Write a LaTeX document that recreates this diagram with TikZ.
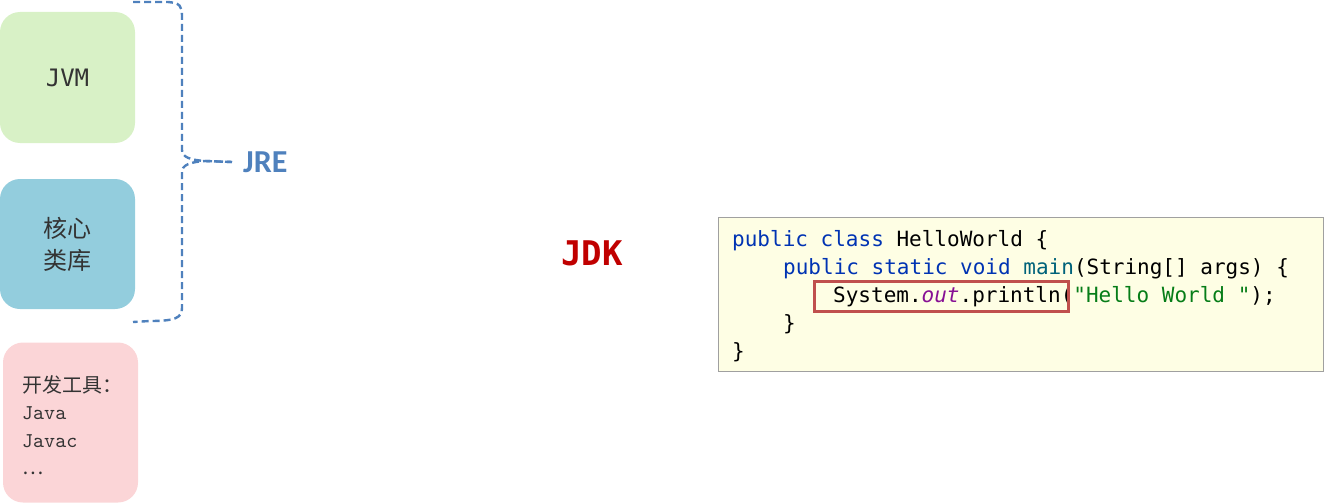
\documentclass[tikz,border=0pt]{standalone}
\usepackage{fontspec}
\setmonofont{DejaVu Sans Mono}
\newfontfamily\cjkfont{Noto Sans CJK SC}
\newfontfamily\labelfont{Carlito}
\newfontfamily\toolfont{lmmono10-regular.otf}
\usetikzlibrary{positioning}
\definecolor{jvmgreen}{HTML}{D8F1C6}
\definecolor{coreblue}{HTML}{93CDDD}
\definecolor{toolpink}{HTML}{FBD5D7}
\definecolor{boxtext}{HTML}{333333}
\definecolor{jreblue}{HTML}{4F81BD}
\definecolor{jdkred}{HTML}{C00000}
\definecolor{codebg}{HTML}{FEFEE4}
\definecolor{codeframe}{HTML}{A0A0A0}
\definecolor{markred}{HTML}{C0504D}
\definecolor{kwblue}{HTML}{0033B3}
\definecolor{mthteal}{HTML}{00627A}
\definecolor{fldpurple}{HTML}{871094}
\definecolor{strgreen}{HTML}{067D17}
\newcommand{\jkw}[1]{\textcolor{kwblue}{#1}}
\newcommand{\jmth}[1]{\textcolor{mthteal}{#1}}
\newcommand{\jfld}[1]{\textcolor{fldpurple}{\itshape #1}}
\newcommand{\jstr}[1]{\textcolor{strgreen}{#1}}
\tikzset{
  block/.style={rectangle, rounded corners=20pt, minimum width=135pt, inner sep=0pt, text=boxtext},
  codeline/.style={anchor=base west, inner sep=0pt, font=\ttfamily\fontsize{21}{28}\selectfont},
  brace/.style={jreblue, line width=2.4pt, dash pattern=on 7pt off 4pt}
}

\begin{document}
\begin{tikzpicture}[x=1pt, y=-1pt]
    \useasboundingbox (0,0) rectangle (1325,503);

    % Bloques de la izquierda
    \node[block, fill=jvmgreen, minimum height=131pt, font=\ttfamily\fontsize{24}{24}\selectfont] (jvm) at (67.5,77.5) {JVM};
    \node[block, fill=coreblue, minimum height=130pt, align=center, font=\cjkfont\fontsize{24}{32}\selectfont] (core) at (67.5,244) {核心\\类库};
    \node[block, fill=toolpink, minimum height=160pt] (tools) at (70.5,422.5) {};
    \node[anchor=north west, inner sep=0pt, align=left, text=boxtext, font=\toolfont\fontsize{21}{27.5}\selectfont] (toolstext) at (22,375) {{\cjkfont\fontsize{20}{27.5}\selectfont 开发工具：}\\Java\\Javac\\{\cjkfont\fontsize{20}{27.5}\selectfont …}};

    % ==========================================
    % JRE (llave)
    % ==========================================
    \node[anchor=west, inner sep=11pt, text=jreblue, font=\labelfont\bfseries\fontsize{32}{32}\selectfont] (jre) at (232,162) {JRE};
    \draw[brace] (133,2) -- (168,2) .. controls (180,3) and (182,6) .. (182,16) -- (182,150) .. controls (182,157) and (190,160) .. (205,161) -- (jre.west);
    \draw[brace] (jre.west) -- (205,161) .. controls (190,162) and (182,165) .. (182,172) -- (182,308) .. controls (182,318) and (175,321) .. (150,321) -- (133,322);

    % JDK
    \node[text=jdkred, font=\ttfamily\bfseries\fontsize{34}{34}\selectfont] (jdk) at (592,253) {JDK};

    % ==========================================
    % Codigo HelloWorld
    % ==========================================
    \node[rectangle, draw=codeframe, fill=codebg, line width=1pt, minimum width=605pt, minimum height=154pt, inner sep=0pt] (code) at (1020.5,294) {};
    \node[codeline] (line1) at (732,246) {\jkw{public class} HelloWorld \{};
    \node[codeline] (line2) at (783,274) {\jkw{public static void} \jmth{main}(String[] args) \{};
    \node[codeline] (line3) at (833,302) {System.\jfld{out}.println(\jstr{"Hello World "});};
    \node[codeline] (line4) at (783,330) {\}};
    \node[codeline] (line5) at (732,358) {\}};

    % Marca roja
    \draw[markred, line width=3pt] (814,281) rectangle (1068,311);

\end{tikzpicture}
\end{document}
